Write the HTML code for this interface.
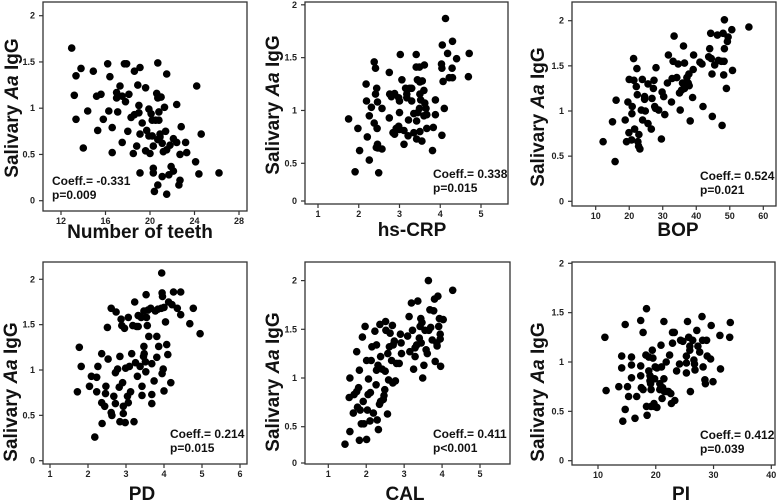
<!DOCTYPE html>
<html><head><meta charset="utf-8"><style>
html,body{margin:0;padding:0;background:#fff;}
svg{display:block;font-family:"Liberation Sans",Arial,sans-serif;}
</style></head><body>
<svg id="chart" width="778" height="503" viewBox="0 0 778 503"></svg>
<script>
const yTickVals=[0,0.5,1,1.5,2];
const yTickLabels=["0","0.5","1","1.5","2"];
const teethTicks=[12,16,20,24,28];
const crpTicks=[1,2,3,4,5];
const bopTicks=[10,20,30,40,50,60];
const pdTicks=[1,2,3,4,5,6];
const calTicks=[1,2,3,4,5];
const plTicks=[10,20,30,40];
const coeffLabels=["Coeff.= -0.331","Coeff.= 0.338","Coeff.= 0.524","Coeff.= 0.214","Coeff.= 0.411","Coeff.= 0.412"];
const pLabels=["p=0.009","p=0.015","p=0.021","p=0.015","p<0.001","p=0.039"];
const xTitles=["Number of teeth","hs-CRP","BOP","PD","CAL","PI"];

const teethX=[12.96,13.35,13.8,13.2,13.35,14.4,14.0,14.9,15.2,15.6,15.3,16.2,16.4,15.8,16.3,16.6,16.6,17.1,17.0,17.3,17.0,17.5,17.7,17.9,18.1,17.8,17.5,18.0,18.6,19.1,18.9,19.0,18.3,18.6,19.0,19.1,18.5,18.8,19.1,19.3,19.6,19.9,19.7,19.9,19.6,20.1,20.2,20.2,20.0,20.3,20.3,20.3,20.7,20.6,20.7,21.0,20.8,20.8,20.5,20.7,20.9,21.1,20.9,20.7,20.4,21.5,21.3,21.4,21.2,21.5,21.1,21.5,21.8,22.1,21.9,22.1,21.7,22.4,22.4,22.8,22.7,22.7,22.6,23.2,23.3,24.2,24.1,24.6,24.4,26.2];
const teethY=[1.65,1.35,1.43,1.14,0.88,0.97,0.57,1.40,1.13,1.15,0.76,1.48,1.34,0.88,0.97,0.79,0.52,0.96,1.17,1.24,1.11,1.13,1.48,1.48,1.15,1.07,0.63,0.75,1.40,1.44,1.25,1.03,0.90,0.93,0.95,0.72,0.51,0.59,0.30,0.84,1.22,0.99,0.76,0.70,0.54,0.94,0.87,0.70,0.51,0.59,0.35,0.30,1.49,1.16,1.11,1.12,0.96,0.87,0.87,0.66,0.69,0.62,0.72,0.17,0.10,1.37,1.01,0.75,0.53,0.55,0.26,0.07,0.60,0.67,0.37,0.32,0.28,1.04,0.63,0.80,0.50,0.22,0.17,0.63,0.52,1.24,0.42,0.72,0.29,0.30];

const crpX=[1.75,1.98,1.91,2.02,2.18,2.19,2.21,2.26,2.26,2.31,2.38,2.41,2.41,2.44,2.38,2.45,2.46,2.46,2.47,2.49,2.43,2.57,2.57,2.75,2.75,2.76,2.80,2.84,2.88,2.88,2.92,2.98,3.0,3.0,2.98,3.02,3.0,3.06,3.11,3.11,3.15,3.18,3.18,3.22,3.21,3.25,3.3,3.3,3.35,3.35,3.41,3.41,3.42,3.42,3.44,3.45,3.49,3.49,3.5,3.5,3.52,3.5,3.56,3.55,3.6,3.61,3.6,3.62,3.65,3.67,3.67,3.83,3.81,3.88,3.88,4.03,4.04,4.05,4.04,4.07,4.1,4.13,4.18,4.22,4.30,4.29,4.3,4.4,4.71,4.69];
const crpY=[0.92,0.83,0.42,0.62,1.25,1.09,0.75,0.95,0.53,1.03,1.46,1.40,1.155,1.21,0.88,0.83,1.08,0.68,0.645,0.41,0.65,1.02,0.635,1.36,0.93,1.155,1.13,0.79,0.775,1.16,0.83,1.12,1.09,0.98,0.85,1.53,0.82,1.29,0.68,0.81,1.21,1.155,1.12,0.91,0.76,1.21,1.21,1.09,0.79,0.97,1.53,1.41,0.90,0.73,1.29,0.98,1.41,1.02,1.155,1.27,1.10,0.80,1.28,0.71,0.95,1.43,1.19,1.07,1.02,0.96,0.83,0.84,0.62,1.10,0.96,1.44,1.40,1.62,0.765,1.275,1.02,1.87,1.54,1.31,1.655,1.40,1.31,1.49,1.54,1.32];

const bopX=[12.2,15.0,16.1,15.8,18.8,19.6,19.2,19.9,20.0,20.8,20.9,21.3,21.4,20.7,21.6,22.1,22.3,22.4,22.6,22.9,22.8,23.2,23.6,24.0,23.9,24.6,24.6,24.8,25.6,25.6,26.6,26.8,27.2,27.4,27.6,28.0,27.8,28.8,29.6,29.8,30.3,30.6,31.4,31.7,32.6,32.8,33.1,33.4,34.2,34.6,35.0,35.2,35.6,35.9,36.2,36.5,36.5,37.2,37.6,37.8,37.9,38.2,38.9,39.1,39.2,41.1,41.7,42.0,43.7,44.0,44.3,44.5,44.7,44.8,45.5,46.3,46.6,47.5,48.0,48.2,48.3,48.4,48.4,49.5,49.3,49.0,47.7,50.6,50.8,55.7];
const bopY=[0.66,0.88,1.12,0.44,0.90,1.10,0.66,0.76,1.35,0.97,1.05,1.58,1.34,0.68,0.80,1.27,1.47,1.18,0.66,0.74,0.61,0.58,1.01,0.90,1.35,1.16,1.13,1.00,1.30,0.86,0.80,1.14,1.25,1.34,1.05,1.48,1.03,1.01,0.69,1.21,1.16,0.96,1.31,1.62,1.10,1.36,1.55,1.83,1.37,1.52,1.20,1.01,1.23,1.31,1.72,1.53,1.25,1.37,1.31,1.41,1.28,0.89,1.15,1.46,1.62,1.54,1.52,1.05,1.60,1.69,1.86,1.58,1.41,0.94,1.51,1.84,1.56,1.55,1.86,1.40,1.55,1.69,2.01,1.82,1.77,1.25,0.84,1.90,1.45,1.93];

const pdX=[1.72,1.77,1.82,2.04,2.09,2.23,2.23,2.18,2.26,2.36,2.36,2.37,2.44,2.46,2.47,2.51,2.53,2.61,2.61,2.63,2.68,2.72,2.72,2.74,2.78,2.82,2.84,2.84,2.87,2.89,2.91,2.93,2.93,2.96,2.98,2.99,3.04,3.06,3.06,3.09,3.12,3.15,3.18,3.21,3.23,3.25,3.28,3.32,3.30,3.32,3.37,3.40,3.42,3.42,3.46,3.47,3.47,3.48,3.51,3.52,3.53,3.54,3.56,3.58,3.60,3.65,3.68,3.68,3.68,3.74,3.77,3.81,3.81,3.84,3.86,3.93,3.95,3.96,3.94,3.95,3.98,4.0,4.0,4.04,4.07,4.10,4.12,4.18,4.21,4.25,4.35,4.44,4.44,4.68,4.77,4.95];
const pdY=[0.76,1.25,1.04,0.82,0.93,0.92,0.76,0.26,1.04,1.18,0.64,0.41,0.60,0.74,0.82,1.47,1.12,1.68,0.53,0.50,0.71,0.63,0.97,1.64,1.01,0.81,1.15,0.43,1.56,1.49,0.86,0.60,0.52,1.46,0.42,1.02,0.71,0.64,1.58,1.04,0.76,1.18,1.49,0.43,1.75,1.08,1.48,1.60,0.93,1.48,1.04,1.58,0.82,0.72,1.15,1.26,1.65,1.18,1.09,0.98,1.83,1.58,1.49,1.66,1.37,1.68,1.07,0.73,0.63,0.88,1.65,1.37,1.14,1.67,1.26,1.68,1.85,1.81,2.07,0.96,1.01,1.69,0.77,1.53,1.28,1.17,1.75,0.86,1.72,1.86,1.68,1.86,1.61,1.51,1.68,1.40];

const calX=[1.44,1.57,1.57,1.55,1.66,1.68,1.75,1.75,1.77,1.80,1.82,1.82,1.84,1.87,1.90,1.92,1.94,1.97,2.01,2.01,2.03,2.05,2.06,2.10,2.11,2.13,2.15,2.19,2.23,2.26,2.27,2.27,2.29,2.31,2.32,2.35,2.36,2.38,2.38,2.42,2.45,2.47,2.49,2.51,2.50,2.52,2.56,2.57,2.59,2.61,2.63,2.67,2.69,2.70,2.71,2.74,2.77,2.80,2.87,2.90,2.92,2.93,3.09,3.13,3.15,3.19,3.22,3.25,3.29,3.29,3.33,3.36,3.40,3.42,3.44,3.45,3.47,3.49,3.52,3.55,3.58,3.61,3.64,3.65,3.68,3.70,3.74,3.78,3.80,3.82,3.86,3.87,3.89,3.91,3.93,3.95,3.95,3.96,4.03,4.28];
const calY=[0.32,0.45,1.00,0.80,0.64,0.83,1.27,0.86,0.70,0.90,1.08,0.36,0.67,0.53,1.42,0.76,0.53,1.53,0.37,1.18,0.67,0.83,0.99,0.56,0.85,1.18,1.32,0.64,1.48,0.93,1.34,1.08,0.57,1.13,0.47,0.73,1.55,1.22,0.76,1.09,0.78,0.82,0.88,1.58,1.07,1.49,0.63,1.25,0.98,1.32,1.46,1.18,1.54,0.95,1.34,1.38,0.97,1.15,1.15,1.45,1.36,1.25,1.43,1.63,1.27,1.77,1.49,1.09,1.22,1.31,1.34,1.79,1.41,1.53,1.61,1.36,1.57,1.00,1.13,1.49,1.29,1.25,2.00,1.49,1.70,1.52,1.39,1.69,1.81,1.17,1.36,1.33,1.84,1.53,1.61,1.40,1.45,1.12,1.60,1.90];

const plX=[11.2,11.4,13.6,14.1,14.1,14.3,14.7,14.7,15.1,15.3,15.8,15.8,15.8,16.4,16.7,17.4,17.4,17.4,17.5,17.8,17.8,18.3,18.4,18.4,18.5,18.8,18.8,19.0,19.0,19.1,19.2,19.2,19.4,19.5,19.7,19.8,19.8,19.9,20.2,20.2,20.7,20.7,20.9,21.0,21.1,21.2,21.4,21.4,21.5,21.8,22.0,22.2,22.4,22.6,22.7,22.9,22.9,23.2,23.3,23.6,24.1,24.3,24.7,25.3,25.3,25.3,25.5,25.7,25.9,25.9,26.0,26.4,26.6,26.7,26.8,27.1,27.3,27.6,28.0,28.1,28.2,28.5,28.6,28.8,28.9,29.5,29.6,29.9,31.1,31.2,32.8,32.9];
const plY=[1.25,0.71,0.75,0.94,1.06,0.40,1.38,0.52,0.75,0.65,1.05,0.97,0.84,0.43,0.65,1.42,0.96,0.86,0.74,1.30,0.72,1.07,1.54,0.55,0.46,1.05,0.91,0.86,0.81,0.78,0.72,0.55,1.12,1.04,0.58,0.55,0.83,0.95,0.94,0.54,0.78,0.72,1.17,0.95,0.63,0.74,1.41,0.83,0.70,1.00,0.70,0.70,1.07,0.68,0.58,1.30,1.19,1.30,0.61,0.91,0.98,1.22,1.21,0.89,0.99,1.06,1.41,1.25,1.16,1.12,0.70,1.22,1.02,0.98,0.92,1.32,1.16,1.10,1.46,1.22,0.95,0.82,0.78,1.22,1.06,1.03,1.37,0.80,1.27,0.93,1.25,1.40];

const NS="http://www.w3.org/2000/svg";
const svg=document.getElementById('chart');
function mk(tag,attrs,parent){const e=document.createElementNS(NS,tag);for(const k in attrs)e.setAttribute(k,attrs[k]);(parent||svg).appendChild(e);return e;}
function lin(v0,p0,v1,p1){return v=>p0+(v-v0)*(p1-p0)/(v1-v0);}

const panels=[
 {box:[43,2,247,211],xs:lin(12,61,28,239),ys:lin(0,200.7,2,15.7),xt:teethTicks,xd:teethX,yd:teethY,zero:null,tx:140,ty:238,yl:[12,108],cx:52},
 {box:[305,2,508,204],xs:lin(1,318,5,481),ys:lin(0.5,163.3,2,4.8),xt:crpTicks,xd:crpX,yd:crpY,zero:201,tx:412,ty:236,yl:[273,105],cx:433},
 {box:[572,2,776,206],xs:lin(10,595.7,60,763.3),ys:lin(0,201.3,2,20.7),xt:bopTicks,xd:bopX,yd:bopY,zero:null,tx:678,ty:236,yl:[538,117],cx:700},
 {box:[43,262,247,464],xs:lin(1,50,6,240),ys:lin(0,460.7,2,279.3),xt:pdTicks,xd:pdX,yd:pdY,zero:null,tx:142,ty:500,yl:[11,392],cx:170},
 {box:[305,262,510,464],xs:lin(1,328.3,5,480),ys:lin(0.5,426.7,1,378),xt:calTicks,xd:calX,yd:calY,zero:463,tx:405,ty:500,yl:[273,382],cx:433},
 {box:[572,262,775,465],xs:lin(10,598,40,771.3),ys:lin(0,460.7,2,263.3),xt:plTicks,xd:plX,yd:plY,zero:null,tx:681,ty:500,yl:[538,392],cx:700}
];

panels.forEach((p,i)=>{
 const g=mk('g',{});
 
 
 const [x0,y0,x1,y1]=p.box;
 const frame=mk('rect',{x:x0,y:y0,width:x1-x0,height:y1-y0,fill:'#fff',stroke:'#333',"stroke-width":1.3},g);
 
 
 yTickVals.forEach((v,k)=>{
  let y=p.ys(v);
  if(v===0&&p.zero!==null)y=p.zero;
  if(y<y0-2||y>y1+2)return;
  mk('line',{x1:x0-4,x2:x0,y1:y,y2:y,stroke:'#333',"stroke-width":1.2},g);
  const t=mk('text',{x:x0-8,y:y+3,"text-anchor":'end',"font-size":9,"font-weight":'bold',fill:'#222'},g);
  t.textContent=yTickLabels[k];
  
  
 });
 p.xt.forEach(v=>{
  const x=p.xs(v);
  mk('line',{x1:x,x2:x,y1:y1,y2:y1+4,stroke:'#333',"stroke-width":1.2},g);
  const t=mk('text',{x:x,y:y1+13,"text-anchor":'middle',"font-size":9,"font-weight":'bold',fill:'#222'},g);
  t.textContent=String(v);
  
  
 });
 p.xd.forEach((xv,k)=>{
  const c=mk('circle',{cx:p.xs(xv).toFixed(1),cy:p.ys(p.yd[k]).toFixed(1),r:3.8,fill:'#000'},g);
  
  
 });
 const c1=mk('text',{x:p.cx,y:(y1-26),"font-size":12,"font-weight":'bold',fill:'#111'},g);
 c1.textContent=coeffLabels[i];
 
 
 const c2=mk('text',{x:p.cx,y:(y1-12),"font-size":12,"font-weight":'bold',fill:'#111'},g);
 c2.textContent=pLabels[i];
 
 
 const xt=mk('text',{x:p.tx,y:p.ty,"text-anchor":'middle',"font-size":19,"font-weight":'bold',fill:'#111'},g);
 xt.textContent=xTitles[i];
 
 
 const yt=mk('text',{x:0,y:0,"text-anchor":'middle',"font-size":19,"font-weight":'bold',fill:'#111',transform:`translate(${p.yl[0]+6},${p.yl[1]}) rotate(-90)`},g);
 
 
 const a=mk('tspan',{},yt);a.textContent='Salivary ';
 const b=mk('tspan',{"font-style":'italic'},yt);b.textContent='Aa';
 const c=mk('tspan',{},yt);c.textContent=' IgG';
});
</script>
</body></html>
